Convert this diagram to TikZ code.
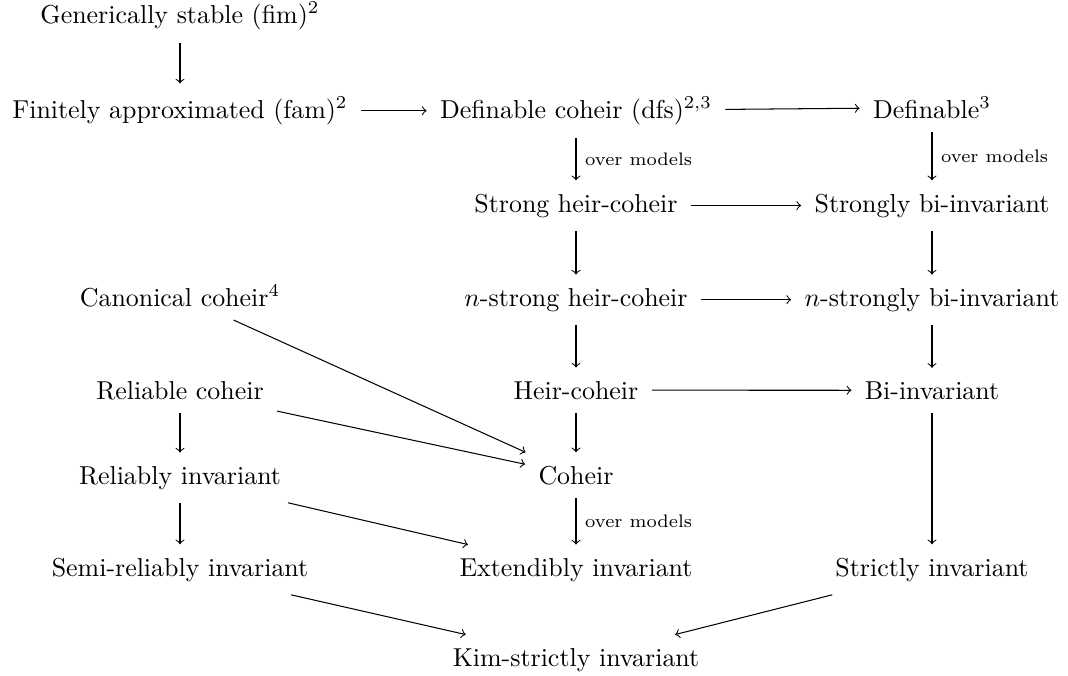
\documentclass[tikz,border=0pt]{standalone}
\usepackage{amsmath, amssymb}
\usepackage{tikz}
\usetikzlibrary{arrows}
\tikzstyle{prop} = [anchor=base, inner sep=0.5em]
\tikzstyle{line} = [draw, ->]
\tikzstyle{cond} = [midway, right, font=\scriptsize]

\begin{document}
\begin{tikzpicture}[x=0.386pt, y=-0.386pt]
    \useasboundingbox (0,0) rectangle (1068,675);
    % Place nodes
    % Left column
    \node [prop] (gs) at (180,23) {Generically stable (fim)$^2$};
    \node [prop] (fam) at (180,118) {Finitely approximated (fam)$^2$};
    \node [prop] (cc) at (180,306) {Canonical coheir$^4$};
    \node [prop] (rc) at (180,399) {Reliable coheir};
    \node [prop] (ri) at (180,484) {Reliably invariant};
    \node [prop] (sri) at (180,576) {Semi-reliably invariant};

    % Middle column
    \node [prop] (dfs) at (576,118) {Definable coheir (dfs)$^{2,3}$};
    \node [prop] (shc) at (576,212) {Strong heir-coheir};
    \node [prop] (nshc) at (576,306) {$n$-strong heir-coheir};
    \node [prop] (hc) at (576,399) {Heir-coheir};
    \node [prop] (coh) at (576,484) {Coheir};
    \node [prop] (ei) at (576,576) {Extendibly invariant};
    \node [prop] (ksi) at (576,666) {Kim-strictly invariant};

    % Right column
    \node [prop] (def) at (932,118) {Definable$^3$};
    \node [prop] (sbi) at (932,212) {Strongly bi-invariant};
    \node [prop] (nsbi) at (932,306) {$n$-strongly bi-invariant};
    \node [prop] (bi) at (932,399) {Bi-invariant};
    \node [prop] (si) at (932,576) {Strictly invariant};

    % Draw edges
    % Top rows
    \path [line] (gs) -- (fam);
    \path [line] (fam) -- (dfs);
    \path [line] (dfs) -- (def);
    \path [line] (dfs) -- node[cond] {over models} (shc);
    \path [line] (def) -- node[cond] {over models} (sbi);

    % Heir-coheir and bi-invariance
    \path [line] (shc) -- (sbi);
    \path [line] (shc) -- (nshc);
    \path [line] (sbi) -- (nsbi);
    \path [line] (nshc) -- (nsbi);
    \path [line] (nshc) -- (hc);
    \path [line] (nsbi) -- (bi);
    \path [line] (hc) -- (bi);
    \path [line] (hc) -- (coh);
    \path [line] (bi) -- (si);

    % Coheirs
    \path [line] (cc) -- (coh);
    \path [line] (rc) -- (coh);
    \path [line] (rc) -- (ri);
    \path [line] (ri) -- (sri);
    \path [line] (ri) -- (ei);
    \path [line] (coh) -- node[cond] {over models} (ei);

    % Kim-strict invariance
    \path [line] (sri) -- (ksi);
    \path [line] (si) -- (ksi);

\end{tikzpicture}
\end{document}
